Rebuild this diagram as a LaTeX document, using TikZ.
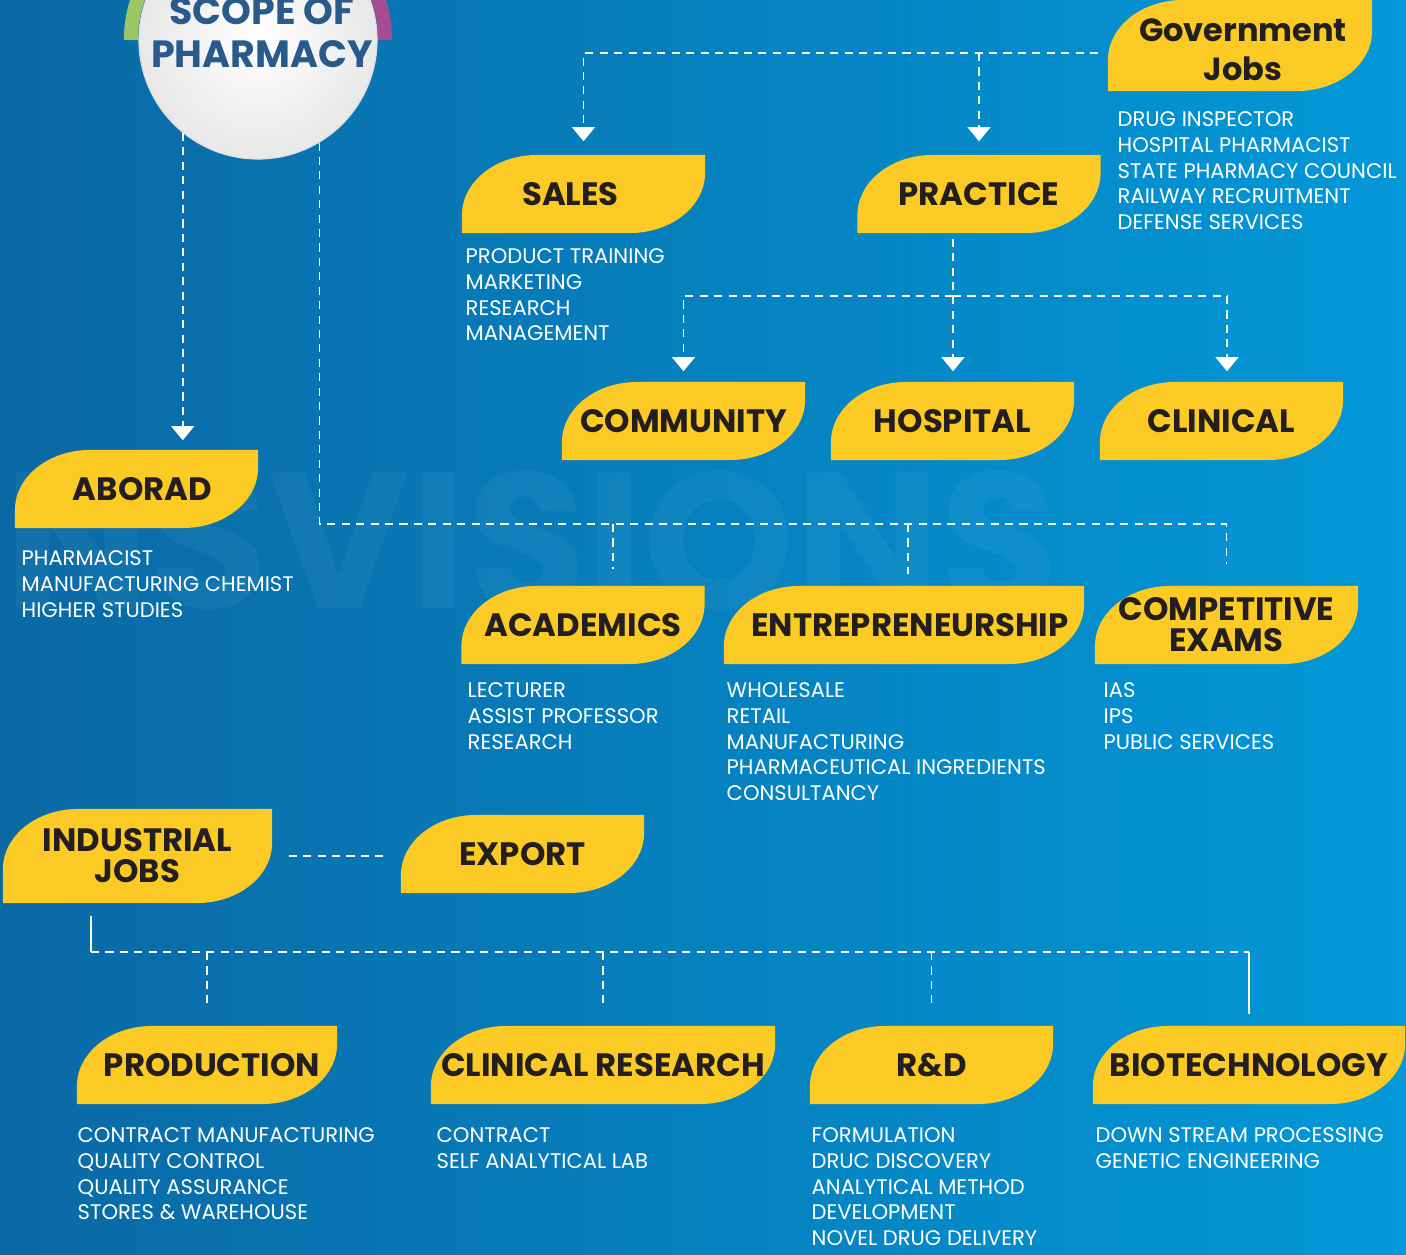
\documentclass[tikz,border=0pt]{standalone}
\usepackage{fontspec}
\setmainfont{Poppins}
\usepackage{tikz}
\usetikzlibrary{arrows.meta,positioning,calc,shadings}
\definecolor{bgleft}{HTML}{0A69A5}
\definecolor{bgright}{HTML}{0398D8}
\definecolor{leafgold}{HTML}{FBCA24}
\definecolor{inkdark}{HTML}{231F20}
\definecolor{titleblue}{HTML}{285A8B}
\definecolor{ringgreen}{HTML}{9CC662}
\definecolor{ringpurple}{HTML}{A54C95}
\newcommand{\headfont}{\fontsize{9.2}{8.8}\selectfont\bfseries}
\newcommand{\itemfont}{\fontsize{6.0}{7.33}\selectfont}

\begin{document}
\begin{tikzpicture}[x=0.01cm, y=-0.01cm,
    leaf/.style={minimum width=2.43cm, minimum height=0.78cm, inner sep=0pt, align=center, font=\headfont, text=inkdark,
      path picture={\fill[leafgold] let \p1=(path picture bounding box.south west), \p2=(path picture bounding box.north east) in
        (\x1,\y1) -- (\x1,\y2-0.6cm) arc[start angle=180, end angle=90, x radius=0.75cm, y radius=0.6cm] -- (\x2,\y2)
        -- (\x2,\y1+0.6cm) arc[start angle=0, end angle=-90, x radius=0.75cm, y radius=0.6cm] -- cycle;}},
    items/.style={anchor=north west, align=left, inner sep=0pt, text=white, font=\itemfont},
    link/.style={draw=white, line width=0.45pt, dash pattern=on 2.3pt off 1.8pt},
    solidlink/.style={draw=white, line width=0.45pt},
    arrowtip/.style={-{Triangle[width=6.5pt,length=4pt]}}
]

\fill[left color=bgleft, right color=bgright] (0,0) rectangle (1406,1255);
\useasboundingbox (0,0) rectangle (1406,1255);
\clip (0,0) rectangle (1406,1255);

% faint watermark
\node[font=\fontsize{55}{55}\selectfont\bfseries, text=white, text opacity=0.045, anchor=east] (mark) at (1072,540) {NSVISIONS};

% title circle
\coordinate (ringc) at (258,40);
\draw[ringgreen, line width=0.14cm] ([xshift=-1.27cm]ringc) arc[start angle=180, end angle=90, radius=1.27cm];
\draw[ringpurple, line width=0.14cm] ([xshift=1.27cm]ringc) arc[start angle=0, end angle=90, radius=1.27cm];
\node[circle, minimum size=2.38cm, inner sep=0pt, inner color=white, outer color=gray!18, draw=gray!25, line width=0.3pt] (scope) at (258,40) {};
\node[font=\fontsize{10.8}{12.2}\selectfont\bfseries, text=titleblue, align=center] (scopetitle) at (262,33) {SCOPE OF\\PHARMACY};

% leaves
\node[leaf, minimum height=0.91cm, minimum width=2.64cm] (govjobs) at (1240,45.5) {};
\node[font=\fontsize{9.1}{11.1}\selectfont\bfseries, text=inkdark, align=center] (govtitle) at (1243,50) {Government\\Jobs};
\node[leaf] (sales) at (583.5,194) {\hspace*{-0.26cm}SALES};
\node[leaf] (practice) at (979,194) {PRACTICE};
\node[leaf] (community) at (683.5,421) {COMMUNITY};
\node[leaf] (hospital) at (952.5,421) {HOSPITAL};
\node[leaf] (clinical) at (1221.5,421) {CLINICAL};
\node[leaf] (aborad) at (136.5,489) {\hspace*{0.12cm}ABORAD};
\node[leaf] (academics) at (583,625) {ACADEMICS};
\node[leaf, minimum width=3.6cm] (entre) at (904,625) {\hspace*{0.12cm}ENTREPRENEURSHIP};
\node[leaf, minimum width=2.63cm] (competitive) at (1226.5,625) {COMPETITIVE\\EXAMS};
\node[leaf, minimum width=2.69cm, minimum height=0.94cm] (industrial) at (137.5,856) {INDUSTRIAL\\JOBS};
\node[leaf] (export) at (522.5,854) {EXPORT};
\node[leaf, minimum width=2.6cm] (production) at (207,1065) {\hspace*{0.1cm}PRODUCTION};
\node[leaf, minimum width=3.44cm] (clinres) at (603,1065) {CLINICAL RESEARCH};
\node[leaf] (rnd) at (931.5,1065) {R\&D};
\node[leaf, minimum width=3.12cm] (biotech) at (1249,1065) {BIOTECHNOLOGY};

% lists
\node[items] (govlist) at (1117,111) {DRUG INSPECTOR\\HOSPITAL PHARMACIST\\STATE PHARMACY COUNCIL\\RAILWAY RECRUITMENT\\DEFENSE SERVICES};
\node[items] (saleslist) at (465,248) {PRODUCT TRAINING\\MARKETING\\RESEARCH\\MANAGEMENT};
\node[items] (aboradlist) at (21,550) {PHARMACIST\\MANUFACTURING CHEMIST\\HIGHER STUDIES};
\node[items] (academicslist) at (467,682) {LECTURER\\ASSIST PROFESSOR\\RESEARCH};
\node[items] (entrelist) at (726,682) {WHOLESALE\\RETAIL\\MANUFACTURING\\PHARMACEUTICAL INGREDIENTS\\CONSULTANCY};
\node[items] (competitivelist) at (1103,682) {IAS\\IPS\\PUBLIC SERVICES};
\node[items] (productionlist) at (77,1127) {CONTRACT MANUFACTURING\\QUALITY CONTROL\\QUALITY ASSURANCE\\STORES \& WAREHOUSE};
\node[items] (clinreslist) at (436,1127) {CONTRACT\\SELF ANALYTICAL LAB};
\node[items] (rndlist) at (811,1127) {FORMULATION\\DRUC DISCOVERY\\ANALYTICAL METHOD\\DEVELOPMENT\\NOVEL DRUG DELIVERY};
\node[items] (biotechlist) at (1095,1127) {DOWN STREAM PROCESSING\\GENETIC ENGINEERING};

% links from the circle
\draw[link, arrowtip, shorten >=0.09cm] (scope.231) -- (scope.231 |- aborad.north);
\coordinate (midbus) at (320,524);
\draw[link, shorten >=0.21cm] (scope.301) |- (midbus -| competitive.north) -- (competitive.north);
\coordinate (acadtap) at (613,524);
\coordinate (entretap) at (908,524);
\draw[link, shorten >=0.16cm] (acadtap) -- (acadtap |- academics.north);
\draw[link, shorten >=0.11cm] (entretap) -- (entretap |- entre.north);

% government jobs
\coordinate (govtap) at (1098,53);
\draw[link, arrowtip, shorten >=0.13cm] (govtap) -| (sales.north);
\draw[link, arrowtip, shorten >=0.13cm] (govtap -| practice.north) -- (practice.north);

% practice
\coordinate (pracbus) at (953,296);
\coordinate (clintap) at (1227,296);
\draw[link, arrowtip, shorten <=0.05cm, shorten >=0.1cm] (pracbus |- practice.south) -- (pracbus |- hospital.north);
\draw[link, arrowtip, shorten >=0.1cm] (pracbus) -| (community.north);
\draw[link] (pracbus) -- (clintap);
\draw[link, arrowtip, shorten >=0.1cm] (clintap) -- (clintap |- clinical.north);

% industrial jobs
\draw[link, shorten <=0.16cm, shorten >=0.15cm] (industrial.east) -- (industrial.east -| export.west);
\coordinate (indbus) at (91,952);
\draw[solidlink, shorten <=0.12cm] (indbus |- industrial.south) -- (indbus);
\draw[link] (indbus) -- (indbus -| biotech.north);
\draw[solidlink, shorten >=0.11cm] (indbus -| biotech.north) -- (biotech.north);
\draw[link, shorten >=0.16cm] (indbus -| production.north) -- (production.north);
\draw[link, shorten >=0.16cm] (indbus -| clinres.north) -- (clinres.north);
\draw[link, shorten >=0.16cm] (indbus -| rnd.north) -- (rnd.north);

\end{tikzpicture}
\end{document}
